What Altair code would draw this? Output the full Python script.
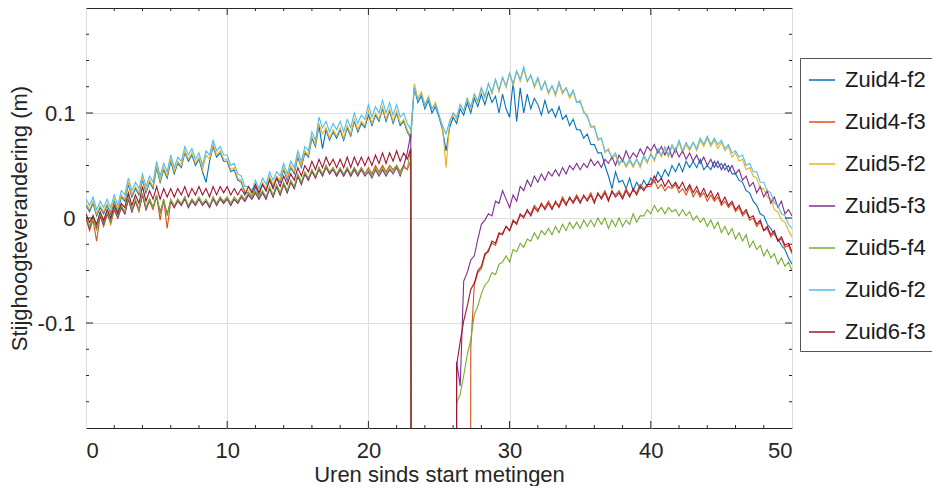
import altair as alt
import pandas as pd

# Hours since start of measurements (0.25 h steps)
hours = [i * 0.25 for i in range(201)]

series_names = ["Zuid4-f2", "Zuid4-f3", "Zuid5-f2", "Zuid5-f3", "Zuid5-f4", "Zuid6-f2", "Zuid6-f3"]
series_colors = ["#0072BD", "#D95319", "#EDB120", "#7E2F8E", "#77AC30", "#4DBEEE", "#A2142F"]

# Head change in mm (values far below the axis = sensor lifted out of the well)
zuid4_f2 = [12, 6, 14, 2, 10, 4, 12, 4, 16, 6, 20, 16, 32, 20, 28, 22, 36, 24, 34, 28,
            48, 34, 46, 38, 54, 42, 52, 48, 62, 54, 60, 50, 56, 44, 34, 54, 68, 58, 62, 54,
            54, 44, 46, 36, 34, 24, 24, 20, 30, 22, 32, 26, 38, 30, 38, 34, 46, 36, 48, 42,
            58, 48, 62, 58, 76, 68, 88, 66, 84, 74, 82, 76, 84, 74, 86, 78, 92, 82, 90, 86,
            98, 88, 98, 92, 104, 92, 102, 90, 100, 88, 92, 82, 76, 124, 110, 116, 104, 112, 100, 106,
            96, 84, 64, 86, 96, 90, 104, 98, 110, 100, 114, 106, 118, 108, 120, 110, 116, 100, 118, 104,
            96, 130, 92, 124, 100, 118, 104, 114, 108, 98, 112, 100, 104, 96, 106, 94, 98, 88, 94, 84,
            84, 76, 80, 70, 70, 62, 62, 50, 40, 28, 44, 34, 36, 28, 38, 26, 34, 28, 36, 30,
            38, 34, 44, 38, 46, 40, 50, 44, 52, 44, 54, 48, 54, 48, 56, 46, 50, 46, 54, 48,
            52, 46, 50, 42, 42, 36, 34, 26, 24, 16, 12, 4, 2, -6, -10, -16, -20, -26, -30, -38,
            -44]
zuid4_f3 = [0, -12, -2, -22, 2, -8, 4, -6, 8, 0, 10, 4, 18, 6, 16, 6, 22, 8, 16, 8,
            22, -2, 18, -10, 16, 10, 18, 12, 20, 10, 18, 12, 18, 12, 16, 10, 20, 12, 20, 14,
            20, 12, 18, 14, 20, 16, 22, 18, 24, 18, 24, 18, 28, 20, 30, 22, 32, 24, 34, 28,
            40, 32, 42, 36, 46, 38, 48, 40, 50, 42, 48, 40, 46, 40, 48, 40, 48, 42, 48, 42,
            48, 42, 50, 44, 50, 44, 50, 46, 50, 44, 50, 46, 54, -3000, -3000, -3000, -3000, -3000, -3000, -3000,
            -3000, -3000, -3000, -3000, -3000, -3000, -3000, -3000, -3000, -124, -64, -52, -48, -36, -30, -24, -26, -16, -14, -8,
            -12, -4, -4, 2, 2, 6, 4, 12, 8, 12, 10, 16, 10, 14, 12, 20, 14, 18, 16, 22,
            16, 20, 18, 24, 16, 22, 20, 26, 18, 24, 22, 26, 20, 28, 22, 26, 24, 32, 28, 30,
            30, 36, 28, 32, 26, 30, 28, 32, 24, 28, 22, 30, 20, 26, 20, 24, 16, 22, 16, 20,
            12, 16, 10, 14, 6, 10, 2, 6, -2, 0, -8, -4, -12, -10, -18, -14, -22, -20, -28, -26,
            -34]
zuid5_f2 = [14, 8, 16, 4, 12, 6, 14, 6, 18, 8, 22, 18, 34, 22, 30, 24, 38, 26, 36, 30,
            50, 36, 48, 40, 56, 44, 54, 50, 64, 56, 62, 52, 58, 46, 60, 56, 70, 60, 64, 56,
            56, 46, 48, 38, 36, 26, 26, 22, 32, 24, 34, 28, 40, 32, 40, 36, 48, 38, 50, 44,
            60, 50, 64, 60, 78, 70, 90, 80, 86, 76, 84, 78, 86, 76, 88, 80, 94, 84, 92, 88,
            102, 90, 100, 94, 106, 94, 104, 92, 102, 90, 94, 84, 78, 128, 114, 120, 108, 116, 104, 110,
            98, 86, 48, 90, 100, 94, 108, 102, 114, 104, 118, 110, 124, 114, 128, 118, 132, 120, 134, 124,
            138, 126, 140, 130, 142, 130, 136, 124, 132, 122, 130, 118, 126, 116, 128, 118, 124, 114, 120, 110,
            112, 100, 98, 86, 88, 74, 76, 62, 66, 56, 60, 50, 56, 48, 54, 48, 56, 48, 58, 52,
            62, 54, 64, 58, 66, 58, 68, 62, 72, 62, 70, 64, 72, 64, 74, 68, 76, 68, 74, 66,
            72, 64, 68, 58, 62, 54, 56, 46, 48, 40, 38, 28, 28, 20, 18, 8, 6, -2, -4, -12,
            -18]
zuid5_f3 = [0, -10, 2, -10, 2, -6, 4, -2, 8, 0, 10, 4, 18, 6, 16, 8, 22, 8, 18, 10,
            20, 6, 16, 4, 16, 10, 16, 12, 18, 10, 16, 12, 18, 12, 16, 10, 18, 12, 18, 14,
            18, 12, 18, 14, 20, 16, 22, 18, 24, 18, 24, 18, 28, 20, 30, 22, 32, 24, 34, 28,
            40, 32, 42, 36, 44, 38, 46, 40, 48, 42, 46, 40, 46, 40, 46, 40, 46, 40, 46, 40,
            44, 38, 46, 40, 46, 40, 46, 42, 48, 40, 50, 62, 80, -3000, -3000, -3000, -3000, -3000, -3000, -3000,
            -3000, -3000, -3000, -3000, -3000, -137, -160, -60, -52, -40, -36, -20, -6, -2, 4, 2, 16, 14, 26, 18,
            10, 22, 16, 30, 26, 36, 30, 40, 34, 42, 36, 44, 40, 46, 40, 48, 42, 50, 46, 52,
            46, 52, 48, 56, 50, 54, 48, 56, 52, 58, 50, 60, 54, 64, 56, 62, 58, 66, 60, 68,
            64, 70, 62, 68, 60, 68, 58, 66, 58, 64, 56, 62, 54, 60, 52, 58, 50, 56, 48, 54,
            46, 52, 44, 50, 42, 46, 36, 40, 30, 34, 24, 30, 20, 26, 14, 20, 10, 16, 4, 8,
            2]
zuid5_f4 = [2, -8, 0, -12, 4, -4, 6, -4, 10, 2, 12, 6, 20, 8, 18, 8, 24, 10, 18, 10,
            22, 4, 18, 2, 18, 12, 18, 14, 20, 12, 18, 14, 20, 14, 18, 12, 20, 14, 20, 16,
            20, 14, 20, 16, 22, 18, 24, 20, 26, 20, 26, 20, 30, 22, 32, 24, 34, 26, 36, 30,
            42, 34, 44, 38, 46, 40, 48, 42, 50, 44, 48, 42, 48, 42, 48, 42, 48, 42, 48, 42,
            46, 40, 48, 42, 48, 42, 48, 44, 50, 42, 48, 46, 66, -3000, -3000, -3000, -3000, -3000, -3000, -3000,
            -3000, -3000, -3000, -3000, -3000, -176, -168, -150, -130, -116, -92, -84, -72, -64, -60, -52, -54, -44, -42, -36,
            -42, -30, -32, -24, -28, -20, -22, -14, -20, -12, -16, -10, -16, -8, -14, -6, -12, -4, -10, -4,
            -10, -2, -8, -2, -8, 0, -6, 0, -10, -2, -8, 0, -8, -2, -6, 4, -4, 2, 2, 8,
            4, 12, 6, 10, 4, 10, 6, 8, 2, 8, 2, 6, -2, 2, -4, 0, -8, -2, -10, -4,
            -14, -8, -16, -10, -20, -14, -22, -16, -28, -22, -30, -26, -36, -30, -38, -34, -44, -38, -46, -42,
            -50]
zuid6_f2 = [18, 12, 20, 8, 16, 10, 18, 10, 22, 12, 26, 22, 38, 26, 34, 28, 42, 30, 40, 34,
            54, 40, 52, 44, 60, 48, 58, 54, 68, 60, 66, 56, 62, 50, 64, 60, 74, 64, 68, 60,
            60, 50, 52, 42, 40, 30, 30, 26, 36, 28, 38, 32, 44, 36, 44, 40, 52, 42, 54, 48,
            64, 54, 68, 64, 82, 74, 96, 86, 92, 82, 90, 84, 92, 82, 94, 86, 100, 90, 98, 94,
            108, 96, 106, 100, 112, 100, 110, 98, 108, 96, 100, 90, 84, 124, 112, 118, 106, 114, 104, 108,
            98, 88, 80, 92, 100, 96, 108, 102, 114, 106, 118, 112, 124, 116, 128, 120, 132, 122, 134, 126,
            138, 128, 140, 132, 144, 130, 136, 126, 134, 122, 130, 120, 126, 118, 130, 120, 124, 116, 122, 110,
            110, 102, 96, 88, 86, 76, 76, 64, 64, 58, 62, 52, 56, 50, 56, 50, 56, 50, 60, 54,
            60, 56, 66, 60, 68, 60, 70, 64, 74, 64, 72, 66, 72, 66, 76, 70, 78, 70, 76, 70,
            74, 66, 70, 62, 64, 58, 60, 50, 52, 44, 44, 34, 34, 26, 24, 14, 12, 4, 2, -6,
            -10]
zuid6_f3 = [4, -4, 2, -6, 6, -2, 8, 0, 12, 4, 14, 10, 24, 12, 22, 14, 30, 16, 26, 18,
            30, 18, 28, 20, 28, 20, 28, 22, 30, 20, 28, 22, 30, 22, 28, 20, 30, 22, 30, 24,
            30, 22, 28, 22, 28, 22, 30, 24, 32, 24, 32, 26, 36, 28, 38, 30, 40, 32, 42, 36,
            48, 40, 50, 44, 54, 46, 56, 48, 58, 50, 56, 48, 56, 48, 58, 48, 58, 50, 58, 50,
            58, 50, 60, 52, 62, 52, 62, 54, 64, 54, 62, 56, 66, -3000, -3000, -3000, -3000, -3000, -3000, -3000,
            -3000, -3000, -3000, -3000, -3000, -140, -118, -98, -84, -68, -62, -50, -46, -34, -32, -22, -24, -14, -16, -8,
            -12, -2, -6, 4, 0, 8, 2, 10, 6, 14, 8, 14, 8, 16, 10, 18, 12, 20, 14, 20,
            14, 22, 16, 22, 14, 24, 18, 24, 16, 26, 20, 24, 18, 26, 20, 28, 22, 30, 26, 32,
            32, 40, 34, 38, 30, 36, 30, 34, 28, 34, 26, 32, 24, 30, 22, 28, 20, 26, 18, 24,
            14, 20, 12, 16, 8, 12, 4, 8, 0, 2, -6, -2, -12, -8, -16, -12, -22, -18, -26, -24,
            -32]

all_series = [zuid4_f2, zuid4_f3, zuid5_f2, zuid5_f3, zuid5_f4, zuid6_f2, zuid6_f3]

# Axis ticks (drawn inward, MATLAB style)
x_major = [10, 20, 30, 40]
x_minor = [2, 4, 6, 8, 12, 14, 16, 18, 22, 24, 26, 28, 32, 34, 36, 38, 42, 44, 46, 48]
y_major = [-0.1, 0.0, 0.1]
y_minor = [-0.175, -0.15, -0.125, -0.075, -0.05, -0.025, 0.025, 0.05, 0.075, 0.125, 0.15, 0.175]

rows = []
for order, (name, vals) in enumerate(zip(series_names, all_series)):
    n = min(len(hours), len(vals))
    for h, v in zip(hours[:n], vals[:n]):
        rows.append({"uur": h, "dh": v / 1000.0, "reeks": name, "volg": order})
df = pd.DataFrame(rows)

W, H = 706, 420
FONT = "Liberation Sans"
TXT = "#262626"

xs = alt.Scale(domain=[0, 50], nice=False, zero=False)
ys = alt.Scale(domain=[-0.2, 0.2], nice=False, zero=False)

lines = alt.Chart(df).mark_line(strokeWidth=1.1, clip=True).encode(
    x=alt.X("uur:Q", scale=xs,
            axis=alt.Axis(values=[0, 10, 20, 30, 40, 50], format="d", grid=True, gridColor="#dedede",
                          ticks=False, tickSize=0, domain=False, labelFontSize=22, labelFont=FONT,
                          labelColor=TXT, labelPadding=12, title="Uren sinds start metingen",
                          titleFont=FONT, titleFontSize=22, titleFontWeight="normal", titleColor=TXT,
                          titleX=353, titleY=46, titleBaseline="middle", titleAlign="center")),
    y=alt.Y("dh:Q", scale=ys,
            axis=alt.Axis(values=[-0.1, 0, 0.1], grid=True, gridColor="#dedede", ticks=False, tickSize=0,
                          domain=False, labelFontSize=22, labelFont=FONT, labelColor=TXT, labelPadding=11,
                          labelExpr="datum.value == 0 ? '0' : (datum.value < 0 ? '-' + format(-datum.value, '.1f') : format(datum.value, '.1f'))",
                          title="Stijghoogteverandering (m)", titleFont=FONT, titleFontSize=22,
                          titleFontWeight="normal", titleColor=TXT, titleAngle=270, titleX=-67, titleY=210,
                          titleBaseline="middle", titleAlign="center")),
    color=alt.Color("reeks:N", scale=alt.Scale(domain=series_names, range=series_colors),
                    legend=alt.Legend(title=None, orient="none", legendX=714, legendY=50,
                                      symbolType="stroke", symbolSize=676, symbolStrokeWidth=1.5,
                                      labelFontSize=22, labelFont=FONT, labelColor="#1a1a1a",
                                      labelOffset=9, rowPadding=17, padding=8,
                                      strokeColor="#555555", fillColor="white", cornerRadius=0)),
    order=alt.Order("volg:Q"),
    detail="reeks:N",
)

tick_col = "#262626"

def xticks(vals, length):
    d = pd.DataFrame({"t": vals})
    bot = alt.Chart(d).mark_rule(color=tick_col, strokeWidth=1).encode(
        x=alt.X("t:Q", scale=xs), y=alt.value(H), y2=alt.value(H - length))
    top = alt.Chart(d).mark_rule(color=tick_col, strokeWidth=1).encode(
        x=alt.X("t:Q", scale=xs), y=alt.value(0), y2=alt.value(length))
    return [bot, top]

def yticks(vals, length):
    d = pd.DataFrame({"t": vals})
    left = alt.Chart(d).mark_rule(color=tick_col, strokeWidth=1).encode(
        y=alt.Y("t:Q", scale=ys), x=alt.value(0), x2=alt.value(length))
    right = alt.Chart(d).mark_rule(color=tick_col, strokeWidth=1).encode(
        y=alt.Y("t:Q", scale=ys), x=alt.value(W - length), x2=alt.value(W))
    return [left, right]

layers = [lines] + xticks(x_major, 7) + xticks(x_minor, 3) + yticks(y_major, 7) + yticks(y_minor, 3)

chart = alt.layer(*layers).properties(
    width=W, height=H,
    autosize=alt.AutoSizeParams(type="none"),
    padding={"left": 78, "top": 0, "right": 140, "bottom": 58},
    background="white",
).configure_view(stroke="#262626", strokeWidth=1).configure_axis(labelFont=FONT, titleFont=FONT)

chart.save("out.html", embed_options={"renderer": "svg", "actions": False})
